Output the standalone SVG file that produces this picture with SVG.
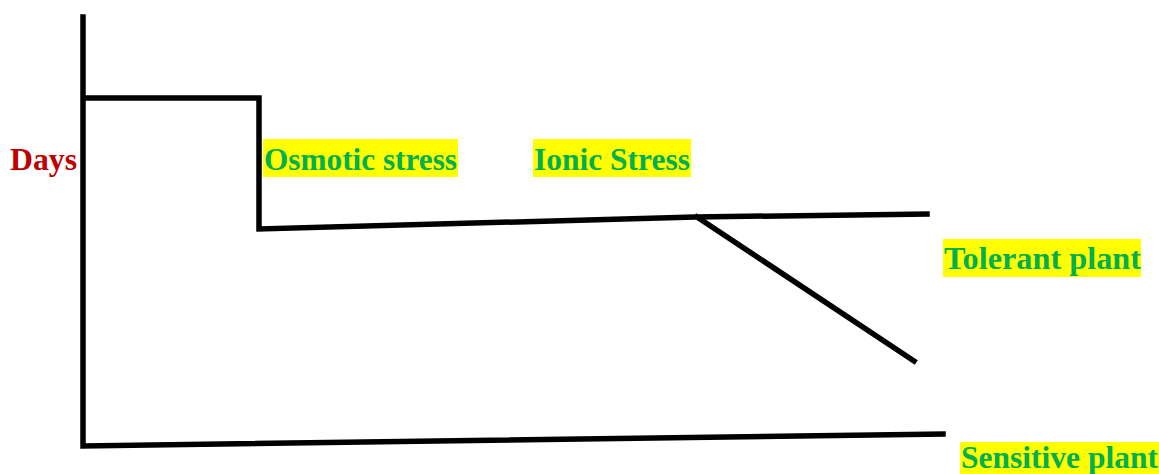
<svg xmlns="http://www.w3.org/2000/svg" width="1159" height="474" viewBox="0 0 1159 474">
<style>
.ln{fill:none;stroke:#000;stroke-width:5.5;stroke-linejoin:miter;stroke-linecap:square}
.lbl{font-family:"Liberation Serif",serif;font-weight:bold;font-size:31px}
.g{fill:#00B050}
.hl{fill:#FFFF00}
</style>
<rect width="1159" height="474" fill="#fff"/>
<g id="connectors">
<polyline class="ln" points="83,17 83,446 943,434"/>
<polyline class="ln" points="84,98 259,98 259,229 695,217 927,214"/>
<line class="ln" x1="697" y1="217" x2="914" y2="361"/>
</g>
<g id="days"><text class="lbl" x="10" y="170" fill="#C00000" textLength="67" lengthAdjust="spacingAndGlyphs">Days</text></g>
<g id="osmotic"><rect class="hl" x="263" y="139" width="195" height="38"/><text class="lbl g" x="264" y="170" textLength="193" lengthAdjust="spacingAndGlyphs">Osmotic  stress</text></g>
<g id="ionic"><rect class="hl" x="533" y="139" width="158" height="38"/><text class="lbl g" x="534" y="170" textLength="156" lengthAdjust="spacingAndGlyphs">Ionic Stress</text></g>
<g id="tolerant"><rect class="hl" x="943" y="239" width="198" height="38"/><text class="lbl g" x="944" y="269" textLength="197" lengthAdjust="spacingAndGlyphs">Tolerant plant</text></g>
<g id="sensitive"><rect class="hl" x="960" y="442" width="199" height="32"/><text class="lbl g" x="961" y="468" font-size="29" textLength="197" lengthAdjust="spacingAndGlyphs">Sensitive plant</text></g>
</svg>
